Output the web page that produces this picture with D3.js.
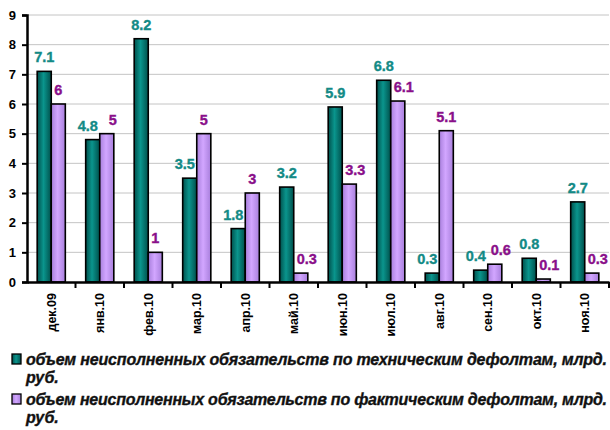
<!DOCTYPE html>
<html><head><meta charset="utf-8">
<script src="https://cdn.jsdelivr.net/npm/d3@7"></script>
<style>
html,body{margin:0;padding:0;background:#fff;}
svg{display:block;font-family:"Liberation Sans",Arial,sans-serif;}
</style></head>
<body>
<svg id="chart" width="610" height="430"></svg>
<script>
const categories = ["дек.09","янв.10","фев.10","мар.10","апр.10","май.10","июн.10","июл.10","авг.10","сен.10","окт.10","ноя.10"];
const technical = [7.1,4.8,8.2,3.5,1.8,3.2,5.9,6.8,0.3,0.4,0.8,2.7];
const actual = [6,5,1,5,3,0.3,3.3,6.1,5.1,0.6,0.1,0.3];
const seriesNames = ["объем неисполненных обязательств по техническим дефолтам, млрд.","объем неисполненных обязательств по фактическим дефолтам, млрд."];
const seriesNames2 = ["руб.","руб."];
const yTicks = [0,1,2,3,4,5,6,7,8,9];

const svg = d3.select("#chart");
const mLeft = 27, mRight = 609, mTop = 15, mBottom = 282;

const defs = svg.append("defs");
function grad(id, edge, mid) {
  const g = defs.append("linearGradient").attr("id", id).attr("x1","0").attr("x2","1").attr("y1","0").attr("y2","0");
  g.append("stop").attr("offset","0%").attr("stop-color",edge);
  g.append("stop").attr("offset","45%").attr("stop-color",mid);
  g.append("stop").attr("offset","100%").attr("stop-color",edge);
}
grad("gT", "#00504c", "#0a958d");
grad("gP", "#a87fdc", "#d2a6ff");

const y = d3.scaleLinear().domain([0,9]).range([mBottom, mTop]);
const x0 = d3.scaleBand().domain(categories).range([mLeft, mRight]).paddingInner(0.42).paddingOuter(0.21);
const x1 = d3.scaleBand().domain([0,1]).range([0, x0.bandwidth()]);
const step = x0.step();

// gridlines
svg.append("g").selectAll("line").data(yTicks.filter(d=>d>0)).join("line")
  .attr("x1", mLeft).attr("x2", mRight).attr("y1", d=>y(d)).attr("y2", d=>y(d))
  .attr("stroke","#c4c4c4").attr("stroke-width",1);

const data = categories.map((c,i)=>({c, vals:[technical[i], actual[i]]}));
const fills = ["url(#gT)","url(#gP)"];
const labelColors = ["#138a86","#8a0f8a"];
const labelGap = 9;

const groups = svg.append("g").selectAll("g").data(data).join("g")
  .attr("transform", d=>`translate(${x0(d.c)},0)`);
groups.selectAll("rect").data(d=>d.vals.map((v,k)=>({v,k}))).join("rect")
  .attr("x", d=>x1(d.k)).attr("width", x1.bandwidth())
  .attr("y", d=>y(d.v)).attr("height", d=>y(0)-y(d.v))
  .attr("fill", d=>fills[d.k]).attr("stroke","#000").attr("stroke-width",1.6);
groups.each(function(g){
  const grp = d3.select(this);
  const t = grp.selectAll("text").data(g.vals.map((v,k)=>({v,k,other:g.vals[1-k]}))).join("text")
    .attr("x", d=>x1(d.k)+x1.bandwidth()/2).attr("y", d=>y(d.v)-labelGap)
    .attr("text-anchor","middle").attr("font-weight","bold").attr("font-size",14.5)
    .attr("fill", d=>labelColors[d.k]).attr("stroke", d=>labelColors[d.k]).attr("stroke-width",0.35)
    .text(d=>d.v);
  const boxes = t.nodes().map(n=>n.getBBox());
  const labelsCollide = boxes[0].x + boxes[0].width > boxes[1].x &&
    boxes[0].y < boxes[1].y + boxes[1].height && boxes[1].y < boxes[0].y + boxes[0].height;
  t.each(function(d,i){
    const bb = boxes[i];
    const hitsBar = bb.width > x1.bandwidth() && (y(d.v)-labelGap) > y(d.other);
    if (hitsBar || labelsCollide) d3.select(this).attr("dx", d.k===0 ? -5 : 6);
  });
});

// y axis
const yAxis = d3.axisLeft(y).tickValues(yTicks).tickSize(5).tickPadding(6).tickFormat(d3.format("d"));
const gy = svg.append("g").attr("transform",`translate(${mLeft},0)`).call(yAxis);
gy.select(".domain").attr("stroke","#000").attr("stroke-width",2.5);
gy.selectAll(".tick line").attr("stroke","#000").attr("stroke-width",2);
gy.selectAll(".tick text").attr("font-size",13).attr("font-weight","bold").attr("fill","#000")
  .attr("font-family","Liberation Sans, Arial, sans-serif");

// x axis
const xAxis = d3.axisBottom(x0).tickSize(0).tickPadding(0);
const gx = svg.append("g").attr("transform",`translate(0,${mBottom})`).call(xAxis);
gx.select(".domain").attr("stroke","#000").attr("stroke-width",2.5);
gx.selectAll(".tick text").attr("font-size",12.5).attr("font-weight","bold").attr("fill","#000")
  .attr("font-family","Liberation Sans, Arial, sans-serif")
  .attr("transform","rotate(-90)").attr("text-anchor","end").attr("dy","0.35em").attr("x",-11).attr("y",0);
// boundary ticks between categories
const boundaries = categories.slice(1).map(c=>x0(c) - x0.paddingInner()*step/2).concat([mRight]);
gx.append("g").selectAll("line").data(boundaries).join("line")
  .attr("x1", d=>d).attr("x2", d=>d)
  .attr("y1",0).attr("y2",6).attr("stroke","#000").attr("stroke-width",2);

// legend
const legend = svg.append("g");
const legY = [365, 405];
legY.forEach((ly,k)=>{
  legend.append("rect").attr("x",12).attr("y",ly-11).attr("width",9).attr("height",10)
    .attr("fill",fills[k]).attr("stroke","#000").attr("stroke-width",1.3);
  legend.append("text").attr("x",26).attr("y",ly).attr("font-size",16).attr("font-weight","bold")
    .attr("font-style","italic").attr("fill","#111").attr("stroke","#111").attr("stroke-width",0.35)
    .attr("textLength",581).attr("lengthAdjust","spacing")
    .text(seriesNames[k]);
  legend.append("text").attr("x",26).attr("y",ly+18).attr("font-size",16).attr("font-weight","bold")
    .attr("font-style","italic").attr("fill","#111").attr("stroke","#111").attr("stroke-width",0.35)
    .text(seriesNames2[k]);
});
</script>
</body></html>
